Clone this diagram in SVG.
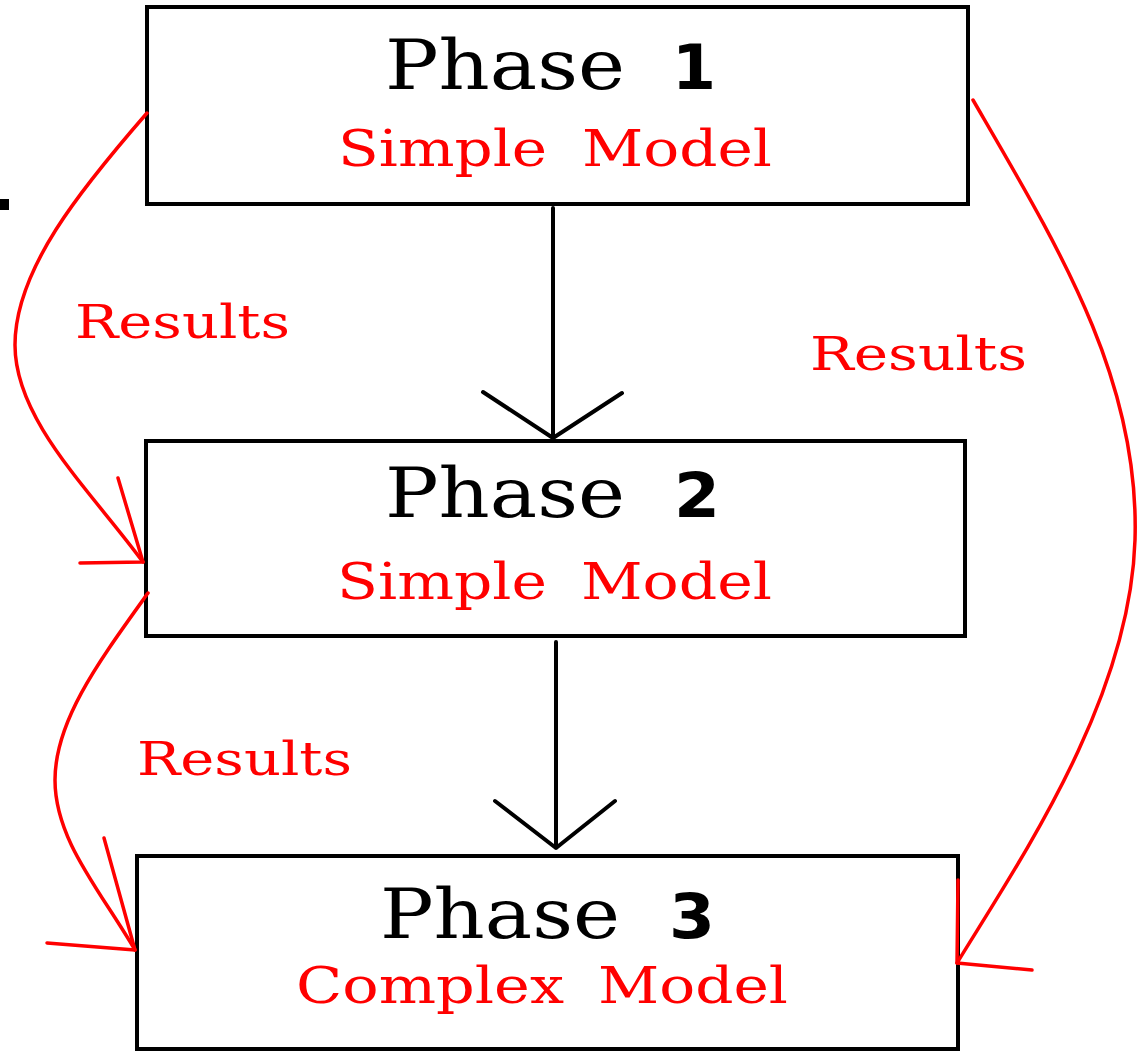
<svg xmlns="http://www.w3.org/2000/svg" width="1147" height="1052" viewBox="0 0 1147 1052">
<style>
.box{fill:#fff;stroke:#000;stroke-width:4}
.ph{font-family:"DejaVu Serif","Liberation Serif",serif;font-size:69px;fill:#000}
.dg{font-family:"DejaVu Sans","Liberation Sans",sans-serif;font-weight:bold;font-size:63px;fill:#000}
.sub{font-family:"DejaVu Serif","Liberation Serif",serif;font-size:50px;fill:#ff0000}
.res{font-family:"DejaVu Serif","Liberation Serif",serif;font-size:47px;fill:#ff0000}
.red{fill:none;stroke:#ff0000;stroke-width:3.5;stroke-linecap:round;stroke-linejoin:round}
.blk{fill:none;stroke:#000;stroke-width:4;stroke-linecap:round;stroke-linejoin:round}
</style>
<rect x="0" y="199" width="9" height="11" fill="#000"/>
<g id="phase1">
<rect class="box" x="147" y="7" width="821" height="197"/>
<text class="ph" y="89"><tspan x="385" textLength="240" lengthAdjust="spacingAndGlyphs">Phase</tspan><tspan class="dg" x="672" textLength="44" lengthAdjust="spacingAndGlyphs">1</tspan></text>
<text class="sub" y="166"><tspan x="338" textLength="209" lengthAdjust="spacingAndGlyphs">Simple</tspan><tspan x="582" textLength="190" lengthAdjust="spacingAndGlyphs">Model</tspan></text>
</g>
<g id="phase2">
<rect class="box" x="146" y="441" width="819" height="195"/>
<text class="ph" y="517"><tspan x="385" textLength="240" lengthAdjust="spacingAndGlyphs">Phase</tspan><tspan class="dg" x="674" textLength="46" lengthAdjust="spacingAndGlyphs">2</tspan></text>
<text class="sub" y="599"><tspan x="337" textLength="210" lengthAdjust="spacingAndGlyphs">Simple</tspan><tspan x="581" textLength="191" lengthAdjust="spacingAndGlyphs">Model</tspan></text>
</g>
<g id="phase3">
<rect class="box" x="137" y="856" width="821" height="193"/>
<text class="ph" y="938"><tspan x="380" textLength="240" lengthAdjust="spacingAndGlyphs">Phase</tspan><tspan class="dg" x="669" textLength="46" lengthAdjust="spacingAndGlyphs">3</tspan></text>
<text class="sub" y="1003"><tspan x="296" textLength="268" lengthAdjust="spacingAndGlyphs">Complex</tspan><tspan x="598" textLength="190" lengthAdjust="spacingAndGlyphs">Model</tspan></text>
</g>
<g id="connectors">
<path class="blk" d="M553,208 V438 M483,392 L553,438 L622,393"/>
<path class="blk" d="M556,642 V848 M495,801 L556,848 L615,801"/>
<path class="red" d="M147,113 C80,190 15,270 15,345 C15,420 90,490 143,562"/>
<path class="red" d="M118,478 L143,562 L80,563"/>
<path class="red" d="M148,593 C100,660 55,720 55,780 C55,840 100,890 135,950"/>
<path class="red" d="M104,838 L135,950 L47,943"/>
<path class="red" d="M973,100 C1060,250 1140,380 1135,540 C1130,700 1020,860 957,963"/>
<path class="red" d="M958,880 L957,963 L1032,970"/>
<text class="res" x="75" y="338" textLength="215" lengthAdjust="spacingAndGlyphs">Results</text>
<text class="res" x="810" y="370" textLength="217" lengthAdjust="spacingAndGlyphs">Results</text>
<text class="res" x="137" y="775" textLength="215" lengthAdjust="spacingAndGlyphs">Results</text>
</g>
</svg>
